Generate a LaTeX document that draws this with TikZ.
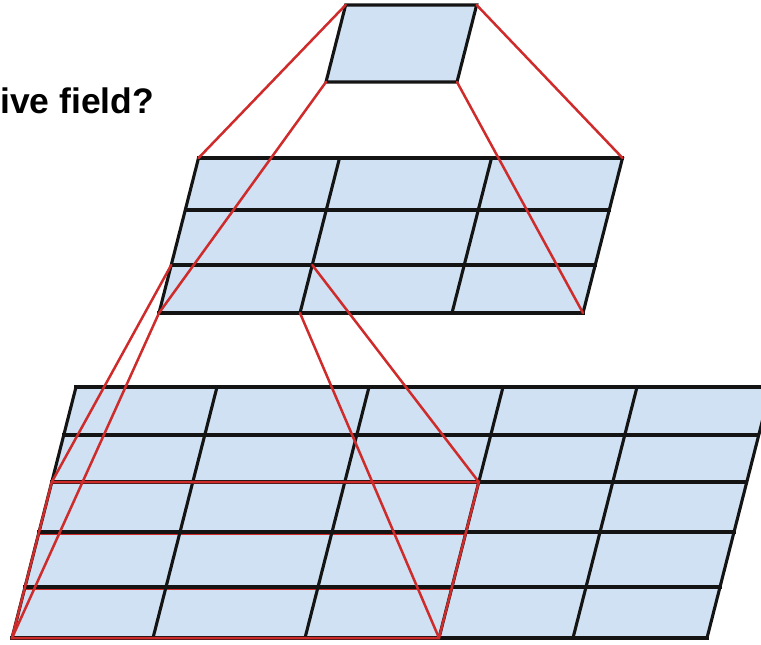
\documentclass[tikz,border=0pt]{standalone}
\usepackage{fontspec}
\setmainfont{Liberation Sans}
\usepackage{xcolor}
\definecolor{ink}{HTML}{141414}
\definecolor{rfred}{HTML}{cf2b2b}
\definecolor{cellbg}{HTML}{cfe1f2}

\begin{document}
\begin{tikzpicture}[x=1pt, y=-1pt,
  grid/.style={draw=ink, line width=3.1pt, line cap=rect},
  fld/.style={draw=rfred, line width=2.5pt, line cap=round},
  lay/.style={xslant=0.255}
]
  \useasboundingbox (0,0) rectangle (761,645);

  \node[anchor=base west, inner sep=0pt, font=\bfseries\fontsize{35.5}{42}\selectfont] (ttl) at (0,113) {ive field?};

  % input layer
  \begin{scope}[shift={(0,638)}, lay]
    \fill[cellbg] (12,-251) -- (707,-251) -- (707,0) -- (12,0) -- cycle;
    \foreach \v in {-106,-51}
      \draw[fld] (12,\v+1.8) -- (439,\v+1.8);
    \foreach \v in {-251,-203,-156,-106,-51,0}
      \draw[grid] (12,\v) -- (707,\v);
    \foreach \u in {12,153,305,439,573,707}
      \draw[grid] (\u,-251) -- (\u,0);
    \draw[fld, line join=miter] (12,-156) -- (439,-156) -- (439,0) -- (12,0) -- cycle;
    \coordinate (b-tl) at (12,-156);
    \coordinate (b-tr) at (439,-156);
    \coordinate (b-bl) at (12,0);
    \coordinate (b-br) at (439,0);
  \end{scope}

  % hidden layer
  \begin{scope}[shift={(0,313)}, lay]
    \fill[cellbg] (159,-155) -- (583,-155) -- (583,0) -- (159,0) -- cycle;
    \foreach \v in {-155,-103,-48,0}
      \draw[grid] (159,\v) -- (583,\v);
    \foreach \u in {159,300,452,583}
      \draw[grid] (\u,-155) -- (\u,0);
    \coordinate (m-tl) at (159,-155);
    \coordinate (m-tr) at (583,-155);
    \coordinate (m-bl) at (159,0);
    \coordinate (m-br) at (583,0);
    \coordinate (c-tl) at (159,-48);
    \coordinate (c-tr) at (300,-48);
    \coordinate (c-bl) at (159,0);
    \coordinate (c-br) at (300,0);
  \end{scope}

  % output unit
  \begin{scope}[shift={(0,82)}, lay]
    \filldraw[cellbg, draw=ink, line width=3.1pt] (326,-77) -- (457,-77) -- (457,0) -- (326,0) -- cycle;
    \coordinate (sq-tl) at (326,-77);
    \coordinate (sq-tr) at (457,-77);
    \coordinate (sq-bl) at (326,0);
    \coordinate (sq-br) at (457,0);
  \end{scope}

  \foreach \a/\b in {sq-tl/m-tl, sq-tr/m-tr, sq-bl/m-bl, sq-br/m-br,
                     c-tl/b-tl, c-tr/b-tr, c-bl/b-bl, c-br/b-br}
    \draw[fld] (\a) -- (\b);
\end{tikzpicture}
\end{document}
